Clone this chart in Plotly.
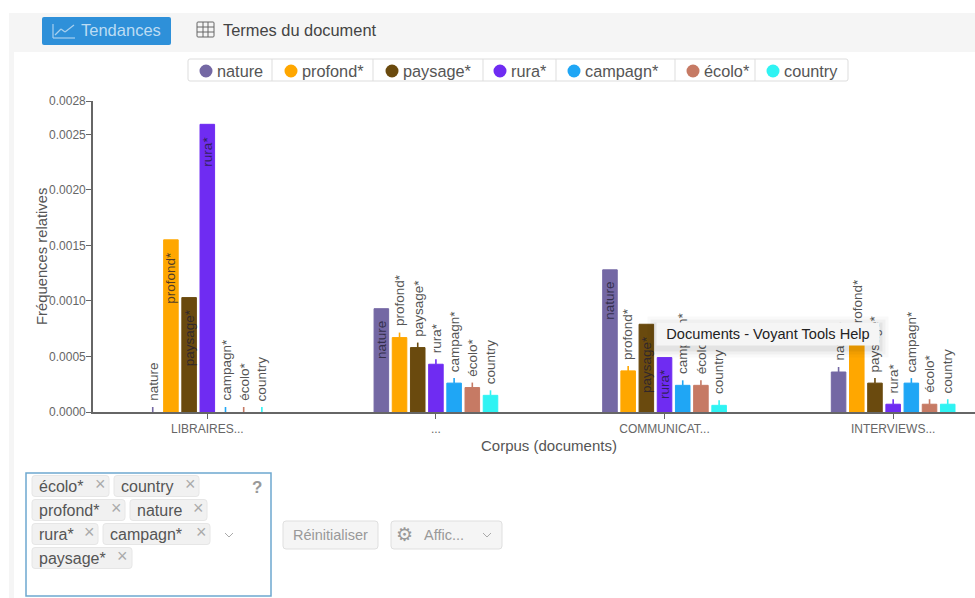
import plotly.graph_objects as go

W, H = 975, 598
FONT = "Liberation Sans, Helvetica, Arial, sans-serif"

categories = ["LIBRAIRES...", "...", "COMMUNICAT...", "INTERVIEWS..."]
terms = ["nature", "profond*", "paysage*", "rura*", "campagn*", "écolo*", "country"]
nature = [0.0, 0.00093, 0.00128, 0.00036]
profond = [0.00155, 0.00067, 0.00037, 0.00063]
paysage = [0.00103, 0.00058, 0.00079, 0.00026]
rura = [0.00259, 0.00043, 0.00049, 0.00007]
campagn = [0.0, 0.00026, 0.00024, 0.00026]
ecolo = [0.0, 0.00022, 0.00024, 0.00007]
country = [0.0, 0.00015, 0.00006, 0.00007]
series = [nature, profond, paysage, rura, campagn, ecolo, country]
colors = ["#7468a4", "#ffa700", "#6a4a0e", "#6f2cf2", "#1fa6f5", "#c67a64", "#2ff3f3"]
y_ticks = [0, 0.0005, 0.001, 0.0015, 0.002, 0.0025, 0.0028]
y_tick_labels = ["0.0000", "0.0005", "0.0010", "0.0015", "0.0020", "0.0025", "0.0028"]
# (category index, term index) of labels drawn inside their bars
inside_labels = {(0, 1), (0, 2), (0, 3), (1, 0), (2, 0), (2, 2), (2, 3)}

BARGAP = 0.443
STEM = 0.000045

def px(x): return x / W
def py(y): return 1 - y / H

fig = go.Figure()
for j, (term, vals, col) in enumerate(zip(terms, series, colors)):
    stems = [0 if (i, j) in inside_labels else STEM for i in range(len(categories))]
    fig.add_trace(go.Bar(
        name=term, x=categories, y=vals,
        marker=dict(color=col, line=dict(color=col, width=[1 if v > 0 else 0 for v in vals])),
        error_y=dict(type="data", symmetric=False, array=stems, arrayminus=[0] * len(stems),
                     color=col, thickness=1.6, width=0),
    ))

shapes, annos = [], []

def rect(x0, y0, x1, y1, fill="rgba(0,0,0,0)", line=None, lw=1, r=3):
    xa, xb, ya, yb = px(x0), px(x1), py(y0), py(y1)
    rx, ry = r / W, r / H
    path = (f"M {xa+rx} {ya} L {xb-rx} {ya} Q {xb} {ya} {xb} {ya-ry} L {xb} {yb+ry} Q {xb} {yb} {xb-rx} {yb} "
            f"L {xa+rx} {yb} Q {xa} {yb} {xa} {yb+ry} L {xa} {ya-ry} Q {xa} {ya} {xa+rx} {ya} Z")
    shapes.append(dict(type="path", xref="paper", yref="paper", path=path, fillcolor=fill,
                       line=dict(color=line or "rgba(0,0,0,0)", width=lw if line else 0), layer="above"))

def seg(x0, y0, x1, y1, col="#888", lw=1):
    shapes.append(dict(type="line", xref="paper", yref="paper", x0=px(x0), y0=py(y0), x1=px(x1), y1=py(y1),
                       line=dict(color=col, width=lw), layer="above"))

def dot(cx, cy, r, col):
    shapes.append(dict(type="circle", xref="paper", yref="paper", x0=px(cx - r), x1=px(cx + r),
                       y0=py(cy - r), y1=py(cy + r), fillcolor=col, line=dict(width=0), layer="above"))

def text(x, y, s, size=15, col="#555", anchor="left", font=FONT, **kw):
    if anchor == "left":
        x -= 2
    annos.append(dict(xref="paper", yref="paper", x=px(x), y=py(y), text=s, showarrow=False, xanchor=anchor,
                      yanchor="middle", font=dict(size=size, color=col, family=font), **kw))

# Page chrome
rect(9, 13, 975, 52, fill="#f5f5f5", r=0)
rect(9, 52, 14, 598, fill="#f5f5f5", r=0)

# Tabs
rect(42, 17, 171, 45, fill="#2e90d9", r=2)
for a, b, c, d in [(53, 24, 53, 38), (53, 38, 75, 38), (55, 35, 61, 29), (61, 29, 65, 32), (65, 32, 74, 25)]:
    seg(a, b, c, d, "#a8d0ee", 1.2)
text(81, 30, "Tendances", 16.5, "#bcdcf3")
rect(197, 22, 214, 37, line="#666", lw=1, r=1)
for xv in (203, 208):
    seg(xv, 22, xv, 37, "#666", 1)
for yv in (27, 32):
    seg(197, yv, 214, yv, "#666", 1)
text(223, 30, "Termes du document", 16.4, "#444")

# Legend strip
rect(188, 59, 848, 81, fill="#ffffff", line="#dddddd", lw=1, r=2)
for xv in (272, 373, 483, 556, 675, 755):
    seg(xv, 59, xv, 81, "#dddddd", 1)
for term, col, mx in zip(terms, colors, (206, 291, 392, 500, 574, 693, 773)):
    dot(mx, 71, 6.5, col)
    text(mx + 11, 71, term, 16.3, "#555")

# Axis titles
text(549, 446, "Corpus (documents)", 15, "#555", anchor="center")
text(42, 257, "Fréquences relatives", 14.8, "#555", anchor="center", textangle=-90)

# Bar labels
step = (1 - BARGAP) / len(terms)
for j, (term, vals) in enumerate(zip(terms, series)):
    for i, v in enumerate(vals):
        inside = (i, j) in inside_labels
        annos.append(dict(
            x=i + (j - 3) * step, y=v, xref="x", yref="y", text=term, textangle=-90, showarrow=False,
            xanchor="center", yanchor="top" if inside else "bottom", yshift=-10 if inside else 9,
            font=dict(size=13.5, family=FONT, color="rgba(35,30,50,0.8)" if inside else "#555"),
        ))

# Tooltip with soft shadow
for grow, alpha in ((9, 0.025), (6, 0.035), (3, 0.05)):
    annos.append(dict(xref="paper", yref="paper", x=px(656 - grow), y=py(322 - grow + 3), text=" ",
                      showarrow=False, xanchor="left", yanchor="top", width=220 + 2 * grow, height=20 + 2 * grow,
                      bgcolor=f"rgba(0,0,0,{alpha})"))
annos.append(dict(xref="paper", yref="paper", x=px(656), y=py(322), text="Documents - Voyant Tools Help",
                  showarrow=False, xanchor="left", yanchor="top", width=220, height=20, align="center",
                  bgcolor="#f5f5f5", font=dict(size=14.6, color="#222", family=FONT)))

# Term input box
rect(26, 473, 271, 596, fill="#ffffff", line="#6ea8cf", lw=1.5, r=0)
tags = [("écolo*", 32, 109, 486), ("country", 114, 199, 486), ("profond*", 32, 125, 510), ("nature", 130, 207, 510),
        ("rura*", 32, 98, 534), ("campagn*", 103, 210, 534), ("paysage*", 32, 132, 558)]
for label, x0, x1, yc in tags:
    rect(x0, yc - 10.5, x1, yc + 10.5, fill="#f1f1f1", line="#e6e6e6", lw=1, r=3)
    text(x0 + 7, yc, label, 16, "#555")
    text(x1 - 9, yc - 2, "×", 18, "#aaa", anchor="center")
text(257, 487, "<b>?</b>", 17, "#999", anchor="center")
seg(225, 533, 229, 537, "#aaa", 1)
seg(229, 537, 233, 533, "#aaa", 1)

# Buttons
rect(283, 521, 378, 549, fill="#f5f5f5", line="#dfdfdf", lw=1, r=3)
text(330.5, 535, "Réinitialiser", 14.5, "#999", anchor="center")
rect(391, 521, 502, 549, fill="#f5f5f5", line="#dfdfdf", lw=1, r=3)
text(404, 534, "⚙", 19, "#999", anchor="center", font="DejaVu Sans")
text(424, 535, "Affic...", 14.5, "#999")
seg(483, 533, 487, 537, "#aaa", 1)
seg(487, 537, 491, 533, "#aaa", 1)

fig.update_layout(
    width=W, height=H, autosize=False, margin=dict(l=0, r=0, t=0, b=0, pad=0),
    paper_bgcolor="#ffffff", plot_bgcolor="#ffffff", showlegend=False,
    barmode="group", bargap=BARGAP, bargroupgap=0.2,
    font=dict(family=FONT, color="#555"),
    shapes=shapes, annotations=annos,
    xaxis=dict(domain=[px(93), 1], range=[-0.5, 3.358], type="category", showgrid=False, zeroline=False,
               showline=True, linecolor="#666", linewidth=1.6, ticks="outside", ticklen=5, tickcolor="#666",
               tickfont=dict(size=12, color="#666"), automargin=False),
    yaxis=dict(domain=[py(412), py(101)], range=[0, 0.0028], tickvals=y_ticks, ticktext=y_tick_labels,
               showgrid=False, zeroline=False, showline=True, linecolor="#666", linewidth=1.6,
               ticks="outside", ticklen=5, tickcolor="#666", tickfont=dict(size=12, color="#666"),
               ticklabelstandoff=-2, automargin=False),
)
fig.write_html("out.html", config=dict(displayModeBar=False),
               post_script="document.body.style.margin='0';document.body.style.overflow='hidden';")
